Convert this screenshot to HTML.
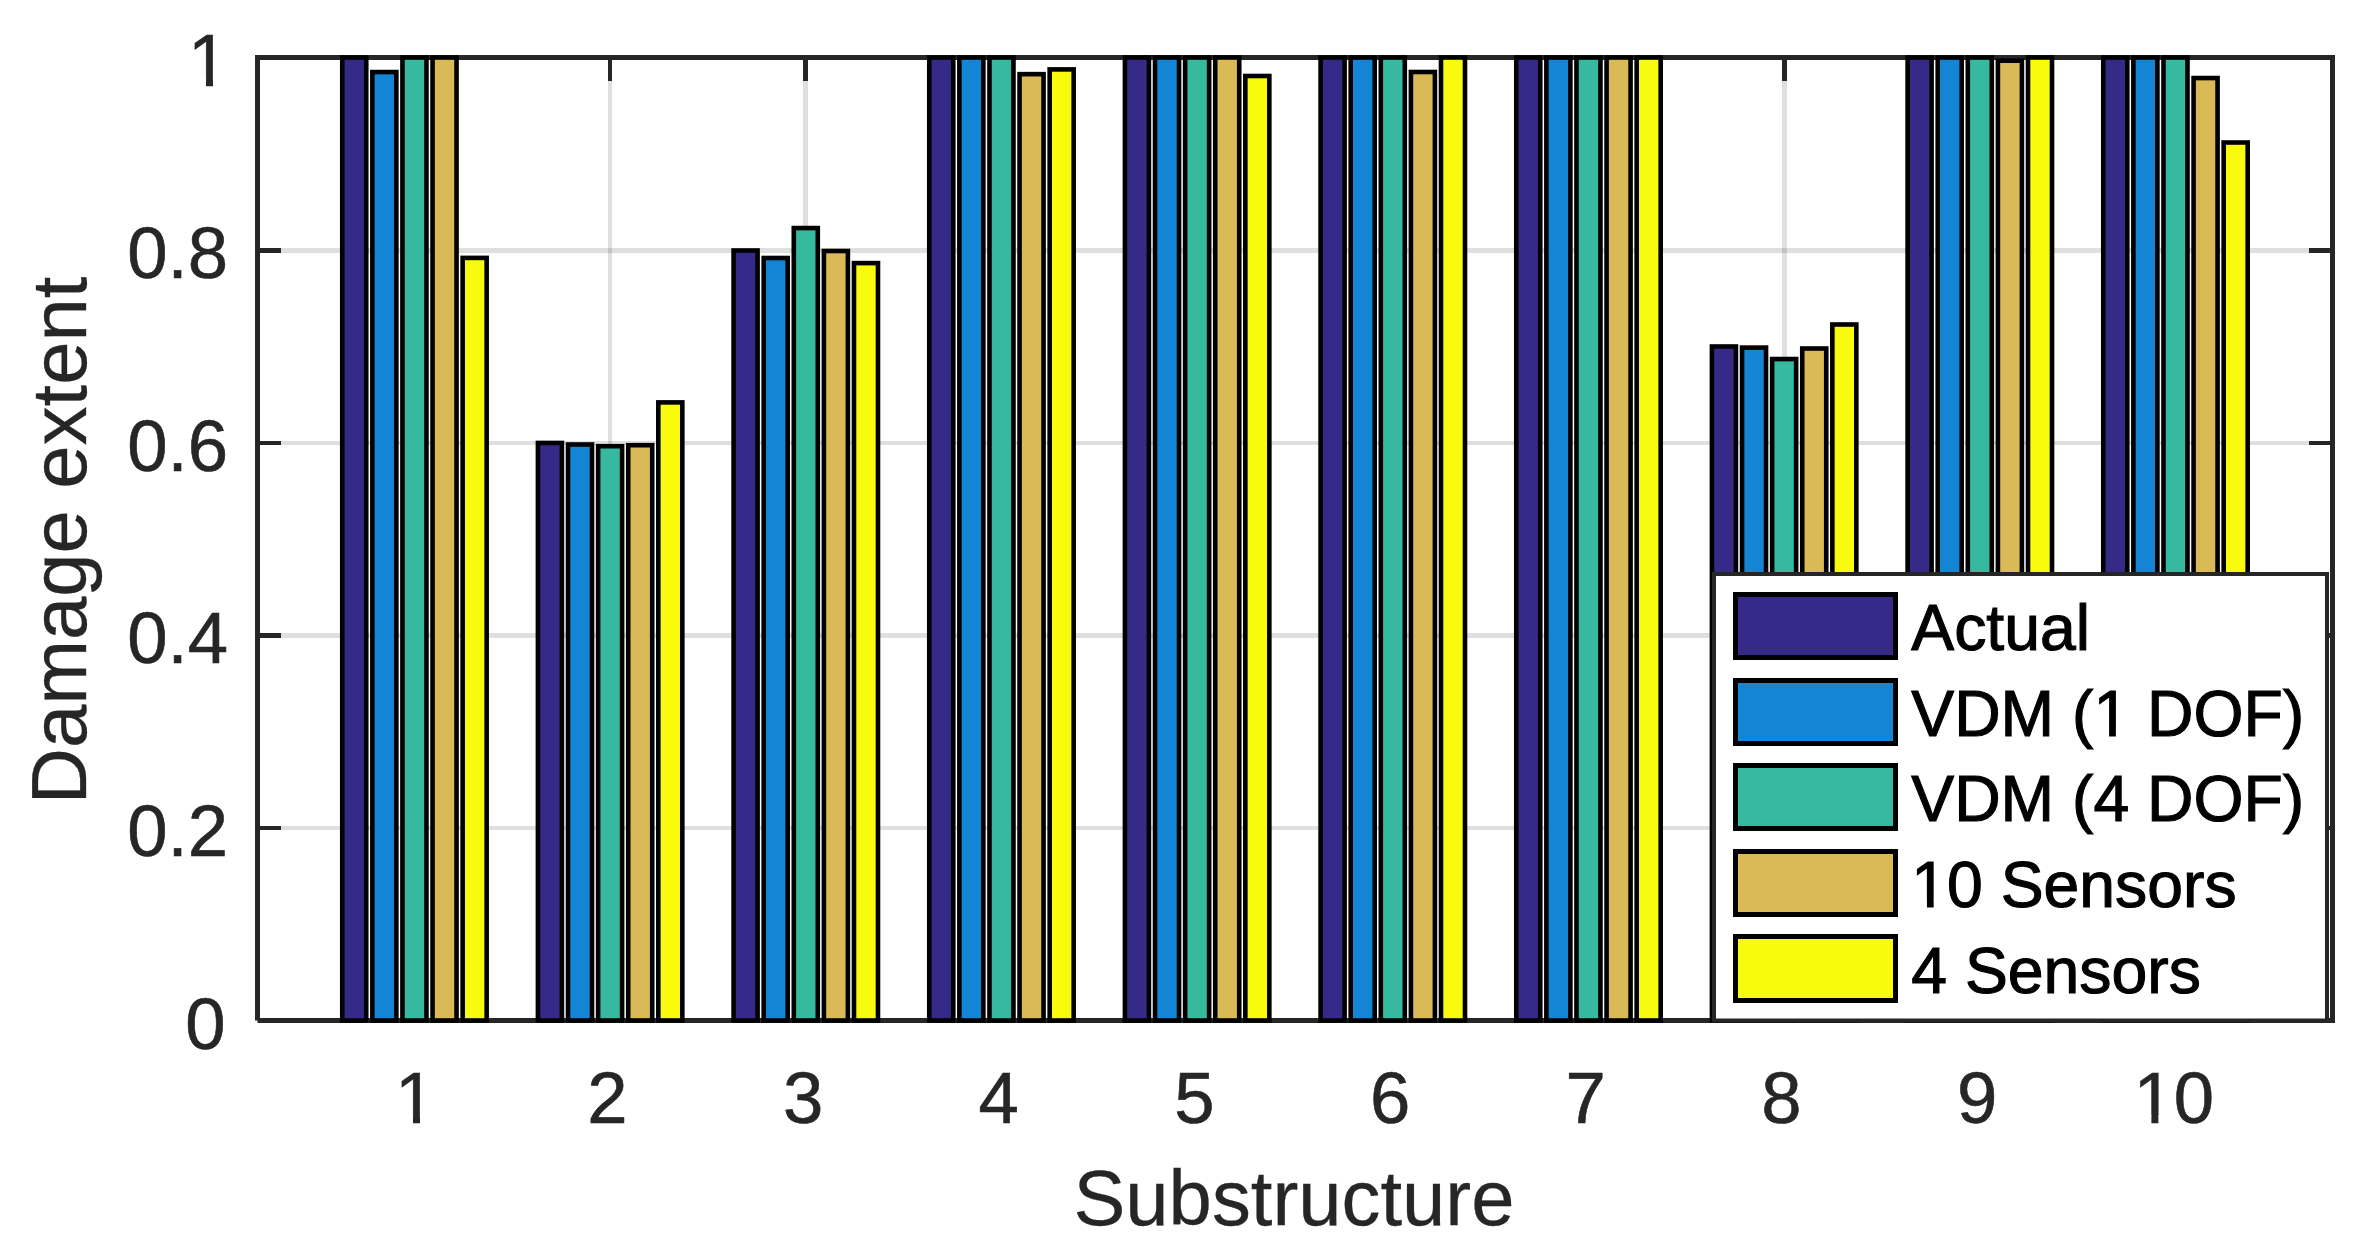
<!DOCTYPE html>
<html><head><meta charset="utf-8"><title>Damage extent per substructure</title>
<style>
html,body{margin:0;padding:0;background:#fff;}
body{width:2372px;height:1258px;overflow:hidden;}
svg{display:block;}
text{font-family:"Liberation Sans",Arial,Helvetica,sans-serif;}
.tk{font-size:72.5px;fill:#262626;stroke:#262626;stroke-width:0.6px;}
.lb{font-size:77.8px;fill:#262626;stroke:#262626;stroke-width:0.3px;}
.lg{font-size:64.3px;fill:#000;stroke:#000;stroke-width:1.1px;}
</style></head><body>
<svg width="2372" height="1258" viewBox="0 0 2372 1258">
<rect x="0" y="0" width="2372" height="1258" fill="#fff"/>

<g fill="#262626" fill-opacity="0.15">
<rect x="412" y="60" width="5" height="958"/>
<rect x="608" y="60" width="4" height="958"/>
<rect x="803" y="60" width="5" height="958"/>
<rect x="999" y="60" width="5" height="958"/>
<rect x="1195" y="60" width="5" height="958"/>
<rect x="1390" y="60" width="5" height="958"/>
<rect x="1586" y="60" width="5" height="958"/>
<rect x="1782" y="60" width="5" height="958"/>
<rect x="1977" y="60" width="5" height="958"/>
<rect x="2173" y="60" width="5" height="958"/>
<rect x="260" y="826" width="2070" height="4"/>
<rect x="260" y="633" width="2070" height="5"/>
<rect x="260" y="441" width="2070" height="4"/>
<rect x="260" y="248" width="2070" height="5"/>
</g>
<g fill="#262626">
<rect x="412" y="55" width="5" height="26"/>
<rect x="412" y="997" width="5" height="26"/>
<rect x="608" y="55" width="4" height="26"/>
<rect x="608" y="997" width="4" height="26"/>
<rect x="803" y="55" width="5" height="26"/>
<rect x="803" y="997" width="5" height="26"/>
<rect x="999" y="55" width="5" height="26"/>
<rect x="999" y="997" width="5" height="26"/>
<rect x="1195" y="55" width="5" height="26"/>
<rect x="1195" y="997" width="5" height="26"/>
<rect x="1390" y="55" width="5" height="26"/>
<rect x="1390" y="997" width="5" height="26"/>
<rect x="1586" y="55" width="5" height="26"/>
<rect x="1586" y="997" width="5" height="26"/>
<rect x="1782" y="55" width="5" height="26"/>
<rect x="1782" y="997" width="5" height="26"/>
<rect x="1977" y="55" width="5" height="26"/>
<rect x="1977" y="997" width="5" height="26"/>
<rect x="2173" y="55" width="5" height="26"/>
<rect x="2173" y="997" width="5" height="26"/>
<rect x="255" y="826" width="26" height="4"/>
<rect x="2309" y="826" width="26" height="4"/>
<rect x="255" y="633" width="26" height="5"/>
<rect x="2309" y="633" width="26" height="5"/>
<rect x="255" y="441" width="26" height="4"/>
<rect x="2309" y="441" width="26" height="4"/>
<rect x="255" y="248" width="26" height="5"/>
<rect x="2309" y="248" width="26" height="5"/>
</g>
<path d="M257.5 1020.5 L257.5 57.5 L2332.5 57.5 L2332.5 1020.5 L257.5 1020.5" fill="none" stroke="#262626" stroke-width="5" stroke-linejoin="miter" stroke-linecap="butt"/>
<g stroke="#000" stroke-width="4.6" stroke-linejoin="miter">
<rect x="342.25" y="57.50" width="24.00" height="963.00" fill="#352a87"/>
<rect x="372.35" y="72.05" width="24.00" height="948.45" fill="#1484d4"/>
<rect x="402.45" y="57.50" width="24.00" height="963.00" fill="#36b99f"/>
<rect x="432.55" y="57.50" width="24.00" height="963.00" fill="#d9ba57"/>
<rect x="462.65" y="257.90" width="24.00" height="762.60" fill="#f9fb0e"/>
<rect x="537.92" y="442.95" width="24.00" height="577.55" fill="#352a87"/>
<rect x="568.02" y="444.50" width="24.00" height="576.00" fill="#1484d4"/>
<rect x="598.12" y="446.20" width="24.00" height="574.30" fill="#36b99f"/>
<rect x="628.22" y="445.20" width="24.00" height="575.30" fill="#d9ba57"/>
<rect x="658.32" y="402.40" width="24.00" height="618.10" fill="#f9fb0e"/>
<rect x="733.59" y="250.50" width="24.00" height="770.00" fill="#352a87"/>
<rect x="763.69" y="258.00" width="24.00" height="762.50" fill="#1484d4"/>
<rect x="793.79" y="228.05" width="24.00" height="792.45" fill="#36b99f"/>
<rect x="823.89" y="251.00" width="24.00" height="769.50" fill="#d9ba57"/>
<rect x="853.99" y="263.10" width="24.00" height="757.40" fill="#f9fb0e"/>
<rect x="929.26" y="57.50" width="24.00" height="963.00" fill="#352a87"/>
<rect x="959.36" y="57.50" width="24.00" height="963.00" fill="#1484d4"/>
<rect x="989.46" y="57.50" width="24.00" height="963.00" fill="#36b99f"/>
<rect x="1019.56" y="74.15" width="24.00" height="946.35" fill="#d9ba57"/>
<rect x="1049.66" y="69.40" width="24.00" height="951.10" fill="#f9fb0e"/>
<rect x="1124.93" y="57.50" width="24.00" height="963.00" fill="#352a87"/>
<rect x="1155.03" y="57.50" width="24.00" height="963.00" fill="#1484d4"/>
<rect x="1185.13" y="57.50" width="24.00" height="963.00" fill="#36b99f"/>
<rect x="1215.23" y="57.50" width="24.00" height="963.00" fill="#d9ba57"/>
<rect x="1245.33" y="76.00" width="24.00" height="944.50" fill="#f9fb0e"/>
<rect x="1320.60" y="57.50" width="24.00" height="963.00" fill="#352a87"/>
<rect x="1350.70" y="57.50" width="24.00" height="963.00" fill="#1484d4"/>
<rect x="1380.80" y="57.50" width="24.00" height="963.00" fill="#36b99f"/>
<rect x="1410.90" y="72.00" width="24.00" height="948.50" fill="#d9ba57"/>
<rect x="1441.00" y="57.50" width="24.00" height="963.00" fill="#f9fb0e"/>
<rect x="1516.27" y="57.50" width="24.00" height="963.00" fill="#352a87"/>
<rect x="1546.37" y="57.50" width="24.00" height="963.00" fill="#1484d4"/>
<rect x="1576.47" y="57.50" width="24.00" height="963.00" fill="#36b99f"/>
<rect x="1606.57" y="57.50" width="24.00" height="963.00" fill="#d9ba57"/>
<rect x="1636.67" y="57.50" width="24.00" height="963.00" fill="#f9fb0e"/>
<rect x="1711.94" y="346.50" width="24.00" height="674.00" fill="#352a87"/>
<rect x="1742.04" y="347.60" width="24.00" height="672.90" fill="#1484d4"/>
<rect x="1772.14" y="359.05" width="24.00" height="661.45" fill="#36b99f"/>
<rect x="1802.24" y="348.50" width="24.00" height="672.00" fill="#d9ba57"/>
<rect x="1832.34" y="324.50" width="24.00" height="696.00" fill="#f9fb0e"/>
<rect x="1907.61" y="57.50" width="24.00" height="963.00" fill="#352a87"/>
<rect x="1937.71" y="57.50" width="24.00" height="963.00" fill="#1484d4"/>
<rect x="1967.81" y="57.50" width="24.00" height="963.00" fill="#36b99f"/>
<rect x="1997.91" y="60.70" width="24.00" height="959.80" fill="#d9ba57"/>
<rect x="2028.01" y="57.50" width="24.00" height="963.00" fill="#f9fb0e"/>
<rect x="2103.28" y="57.50" width="24.00" height="963.00" fill="#352a87"/>
<rect x="2133.38" y="57.50" width="24.00" height="963.00" fill="#1484d4"/>
<rect x="2163.48" y="57.50" width="24.00" height="963.00" fill="#36b99f"/>
<rect x="2193.58" y="78.05" width="24.00" height="942.45" fill="#d9ba57"/>
<rect x="2223.68" y="142.50" width="24.00" height="878.00" fill="#f9fb0e"/>
</g>
<rect x="1714" y="574" width="613" height="446.5" fill="#fff" stroke="#262626" stroke-width="4"/>
<rect x="1733" y="592" width="165" height="68" fill="#000"/>
<rect x="1738" y="597" width="155" height="58" fill="#352a87"/>
<text class="lg" x="1911.30" y="649.90">Actual</text>
<rect x="1733" y="678" width="165" height="68" fill="#000"/>
<rect x="1738" y="683" width="155" height="58" fill="#1484d4"/>
<text class="lg" x="1911.30" y="735.60">VDM (1 DOF)</text>
<rect x="1733" y="763" width="165" height="68" fill="#000"/>
<rect x="1738" y="768" width="155" height="58" fill="#36b99f"/>
<text class="lg" x="1911.30" y="821.30">VDM (4 DOF)</text>
<rect x="1733" y="849" width="165" height="68" fill="#000"/>
<rect x="1738" y="854" width="155" height="58" fill="#d9ba57"/>
<text class="lg" x="1911.30" y="907.00">10 Sensors</text>
<rect x="1733" y="934" width="165" height="69" fill="#000"/>
<rect x="1738" y="939" width="155" height="59" fill="#f9fb0e"/>
<text class="lg" x="1911.30" y="992.70">4 Sensors</text>
<text class="tk" text-anchor="middle" x="415.21" y="1122.6">1</text>
<text class="tk" text-anchor="middle" x="607.42" y="1122.6">2</text>
<text class="tk" text-anchor="middle" x="803.09" y="1122.6">3</text>
<text class="tk" text-anchor="middle" x="998.76" y="1122.6">4</text>
<text class="tk" text-anchor="middle" x="1194.43" y="1122.6">5</text>
<text class="tk" text-anchor="middle" x="1390.10" y="1122.6">6</text>
<text class="tk" text-anchor="middle" x="1585.77" y="1122.6">7</text>
<text class="tk" text-anchor="middle" x="1781.44" y="1122.6">8</text>
<text class="tk" text-anchor="middle" x="1977.11" y="1122.6">9</text>
<text class="tk" text-anchor="middle" x="2173.78" y="1122.6">10</text>
<text class="tk" text-anchor="end" transform="translate(225.6 1048.50) scale(1 1.0)">0</text>
<text class="tk" text-anchor="end" transform="translate(228 856.00) scale(1 1.0)">0.2</text>
<text class="tk" text-anchor="end" transform="translate(228 663.40) scale(1 1.0)">0.4</text>
<text class="tk" text-anchor="end" transform="translate(228 470.95) scale(1 1.0)">0.6</text>
<text class="tk" text-anchor="end" transform="translate(228 278.40) scale(1 1.0)">0.8</text>
<text class="tk" text-anchor="end" transform="translate(228.4 85.8) scale(1 1.035)">1</text>
<text class="lb" text-anchor="middle" x="1294" y="1225.4">Substructure</text>
<text class="lb" text-anchor="middle" transform="translate(85.8 540.5) rotate(-90)">Damage extent</text>
<g fill="#fff"><rect x="2096.16" y="729.10" width="12.92" height="8.50"/>
<rect x="2115.86" y="729.10" width="12.42" height="8.50"/>
<rect x="1914.00" y="900.50" width="12.92" height="8.50"/>
<rect x="1933.70" y="900.50" width="12.42" height="8.50"/>
<rect x="398.37" y="1115.48" width="14.61" height="9.12"/>
<rect x="419.99" y="1115.48" width="14.04" height="9.12"/>
<rect x="2136.78" y="1115.48" width="14.61" height="9.12"/>
<rect x="2158.40" y="1115.48" width="14.04" height="9.12"/>
<rect x="191.40" y="78.43" width="14.61" height="9.37"/>
<rect x="213.02" y="78.43" width="14.04" height="9.37"/></g>
</svg>
</body></html>
